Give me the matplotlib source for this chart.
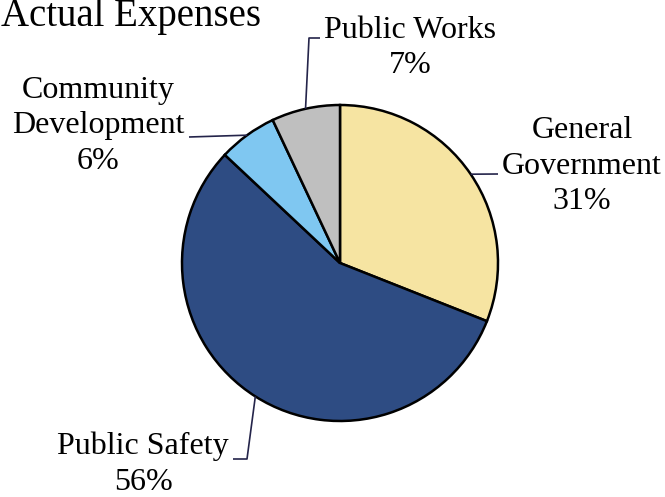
import numpy as np
import matplotlib
matplotlib.use("Agg")
import matplotlib.pyplot as plt

# slice data, clockwise from 12 o'clock
labels = ["General\nGovernment", "Public Safety", "Community\nDevelopment", "Public Works"]
shares = [31, 56, 6, 7]
colors = ["#F6E4A2", "#2E4C83", "#7FC7F1", "#BFBFBF"]

H = 497
plt.rcParams['font.family'] = ['Liberation Serif', 'DejaVu Serif']

fig = plt.figure(figsize=(6.65, 4.97), dpi=100)
ax = fig.add_axes([0, 0, 1, 1])
ax.set_xlim(0, 665)
ax.set_ylim(0, H)
ax.axis("off")

cx, cy, r = 340, H - 263, 158
wedges, _ = ax.pie(shares, startangle=90, counterclock=False,
                   center=(cx, cy), radius=r, colors=colors,
                   wedgeprops=dict(edgecolor="black", linewidth=1.8))
ax.set_xlim(0, 665)
ax.set_ylim(0, H)
ax.set_aspect("equal")

# label block centre and the leader path from pie edge (pixel coords, y down)
label_pos = [(582, 166), (143, 464), (98, 126), (410, 48)]
leader_tail = [[(498, 174)],
               [(247, 459), (233, 459)],
               [(189, 137)],
               [(309, 38), (320, 38)]]

line_col = "#24244a"
for w, lab, pct, pos, tail in zip(wedges, labels, shares, label_pos, leader_tail):
    mid = np.deg2rad((w.theta1 + w.theta2) / 2)
    ex, ey = cx + r * np.cos(mid), cy + r * np.sin(mid)
    xs = [ex] + [p[0] for p in tail]
    ys = [ey] + [H - p[1] for p in tail]
    ax.plot(xs, ys, color=line_col, lw=1.2, solid_capstyle="butt")
    ax.text(pos[0], H - pos[1], f"{lab}\n{pct}%", ha="center", va="center",
            multialignment="center", fontsize=23, linespacing=1.3)

ax.text(1, H - 26, "Actual Expenses", fontsize=28, va="baseline", ha="left")

fig.savefig("out.png", dpi=100)
